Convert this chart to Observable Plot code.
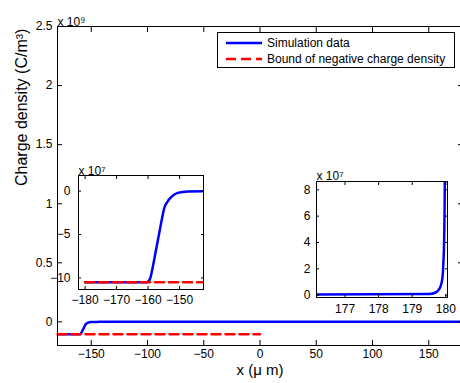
<!DOCTYPE html>
<html><head><meta charset="utf-8">
<script src="https://cdn.jsdelivr.net/npm/d3@7"></script>
<script src="https://cdn.jsdelivr.net/npm/@observablehq/plot@0.6"></script>
<style>
html,body{margin:0;padding:0;background:#fff;overflow:hidden;}
#wrap{position:relative;width:460px;height:383px;overflow:hidden;font-family:"Liberation Sans",Arial,Helvetica,sans-serif;}
#wrap > svg{position:absolute;max-width:none !important;}
.legend{position:absolute;left:217px;top:32px;width:238px;height:36px;border:1px solid #000;background:#fff;box-sizing:border-box;font-size:12px;color:#000;}
.legend .row{position:absolute;left:0;height:14px;line-height:14px;white-space:nowrap;}
.legend svg{position:absolute;left:7px;top:0;}
.legend span{position:absolute;left:49px;top:0;}
</style></head><body><div id="wrap"></div>
<script>
// Simulation data: x in µm, charge density in units of 1e7 C/m^3
const simX = [-180, -165, -160.5, -159.5, -158.6, -157.5, -156.5, -155.5, -154.9, -153.8, -152.7, -150.6, -147.4, -142.5, 176, 179.5, 179.7, 179.8, 179.87, 179.91, 179.93, 179.95, 179.97, 180];
const simY = [-10.5, -10.5, -10.5, -10.2, -8.9, -6.8, -4.9, -3.0, -2.0, -1.2, -0.7, -0.2, -0.03, 0, 0.05, 0.08, 0.2, 0.45, 0.9, 1.6, 2.6, 4.2, 8.8, 240];
// Bound of negative charge density
const boundX = [-180, 0];
const boundY = [-10.5, -10.5];

const mainXTicks = [-150, -100, -50, 0, 50, 100, 150];
const mainYTicks = [0, 0.5, 1, 1.5, 2, 2.5];
const in1XTicks = [-180, -170, -160, -150];
const in1YTicks = [-10, -5, 0];
const in2XTicks = [177, 178, 179, 180];
const in2YTicks = [0, 2, 4, 6, 8];

const legendLabels = ["Simulation data", "Bound of negative charge density"];

const sim = simX.map((x, i) => ({x, v: simY[i]}));
const bound = boundX.map((x, i) => ({x, v: boundY[i]}));
const fmt = d => (d < 0 ? "\u2212" : "") + Math.abs(d);
const blank = () => "";
const font = "'Liberation Sans', Arial, Helvetica, sans-serif";
const BLUE = "#0000ff", RED = "#ff0000";

function axes(xt, yt, ts, padX, padY) {
  return [
    Plot.axisX(xt, {anchor: "bottom", tickSize: -ts, tickPadding: padX, tickFormat: fmt, label: null}),
    Plot.axisX(xt, {anchor: "top", tickSize: -ts, tickFormat: blank, label: null}),
    Plot.axisY(yt, {anchor: "left", tickSize: -ts, tickPadding: padY, tickFormat: fmt, label: null}),
    Plot.axisY(yt, {anchor: "right", tickSize: -ts, tickFormat: blank, label: null})
  ];
}

const style = {fontFamily: font, fontSize: "12px", color: "#000", background: "transparent", overflow: "visible", maxWidth: "none"};

const main = Plot.plot({
  width: 462, height: 383,
  marginLeft: 57, marginRight: 0, marginTop: 26, marginBottom: 38,
  style,
  x: {domain: [-180, 180]},
  y: {domain: [-0.2, 2.5]},
  marks: [
    Plot.line(sim, {x: "x", y: d => d.v / 100, stroke: BLUE, strokeWidth: 2.5, curve: "monotone-x", clip: true}),
    Plot.line(bound, {x: "x", y: d => d.v / 100, stroke: RED, strokeWidth: 2.5, strokeDasharray: "9,5"}),
    Plot.frame({stroke: "#000"}),
    ...axes(mainXTicks, mainYTicks, 5, 9, 10),
    Plot.text(["x 10\u2079"], {text: d => d, frameAnchor: "top-left", textAnchor: "start", dy: -9}),
    Plot.text(["Charge density (C/m\u00b3)"], {text: d => d, frameAnchor: "left", rotate: -90, dx: -36, fontSize: 16}),
    Plot.text(["x (\u03bc m)"], {text: d => d, frameAnchor: "bottom", dy: 29, fontSize: 15})
  ]
});
main.style.left = "0px"; main.style.top = "0px";

const in1 = Plot.plot({
  width: 156, height: 156,
  marginLeft: 28, marginRight: 3, marginTop: 20, marginBottom: 22,
  style,
  x: {domain: [-182.1, -142.4]},
  y: {domain: [-11.33, 1.8]},
  marks: [
    Plot.frame({fill: "#fff"}),
    Plot.line(sim, {x: "x", y: "v", stroke: BLUE, strokeWidth: 2.5, curve: "monotone-x", clip: true}),
    Plot.line(bound, {x: "x", y: "v", stroke: RED, strokeWidth: 2.5, strokeDasharray: "9,5", clip: true}),
    Plot.frame({stroke: "#000"}),
    ...axes(in1XTicks, in1YTicks, 3, 9, 11),
    Plot.text(["x 10\u2077"], {text: d => d, frameAnchor: "top-left", textAnchor: "start", dy: -9})
  ]
});
in1.style.left = "50px"; in1.style.top = "155px";

const in2 = Plot.plot({
  width: 160, height: 159,
  marginLeft: 26, marginRight: 3, marginTop: 21, marginBottom: 22,
  style,
  x: {domain: [176.15, 180.05]},
  y: {domain: [-0.18, 8.63]},
  marks: [
    Plot.frame({fill: "#fff"}),
    Plot.line(sim, {x: "x", y: "v", stroke: BLUE, strokeWidth: 2.5, curve: "monotone-x", clip: true}),
    Plot.frame({stroke: "#000"}),
    ...axes(in2XTicks, in2YTicks, 3, 10, 9),
    Plot.text(["x 10\u2077"], {text: d => d, frameAnchor: "top-left", textAnchor: "start", dy: -10})
  ]
});
in2.style.left = "290px"; in2.style.top = "160px";

const wrap = document.getElementById("wrap");
wrap.append(main, in1, in2);

const leg = document.createElement("div");
leg.className = "legend";
leg.innerHTML = `
<div class="row" style="top:3px;width:100%"><svg width="38" height="14"><line x1="1" x2="37" y1="7" y2="7" stroke="${BLUE}" stroke-width="2.5"/></svg><span>${legendLabels[0]}</span></div>
<div class="row" style="top:18.5px;width:100%"><svg width="38" height="14"><line x1="1" x2="37" y1="7" y2="7" stroke="${RED}" stroke-width="2.5" stroke-dasharray="10,5"/></svg><span>${legendLabels[1]}</span></div>`;
wrap.append(leg);
</script>
</body></html>
